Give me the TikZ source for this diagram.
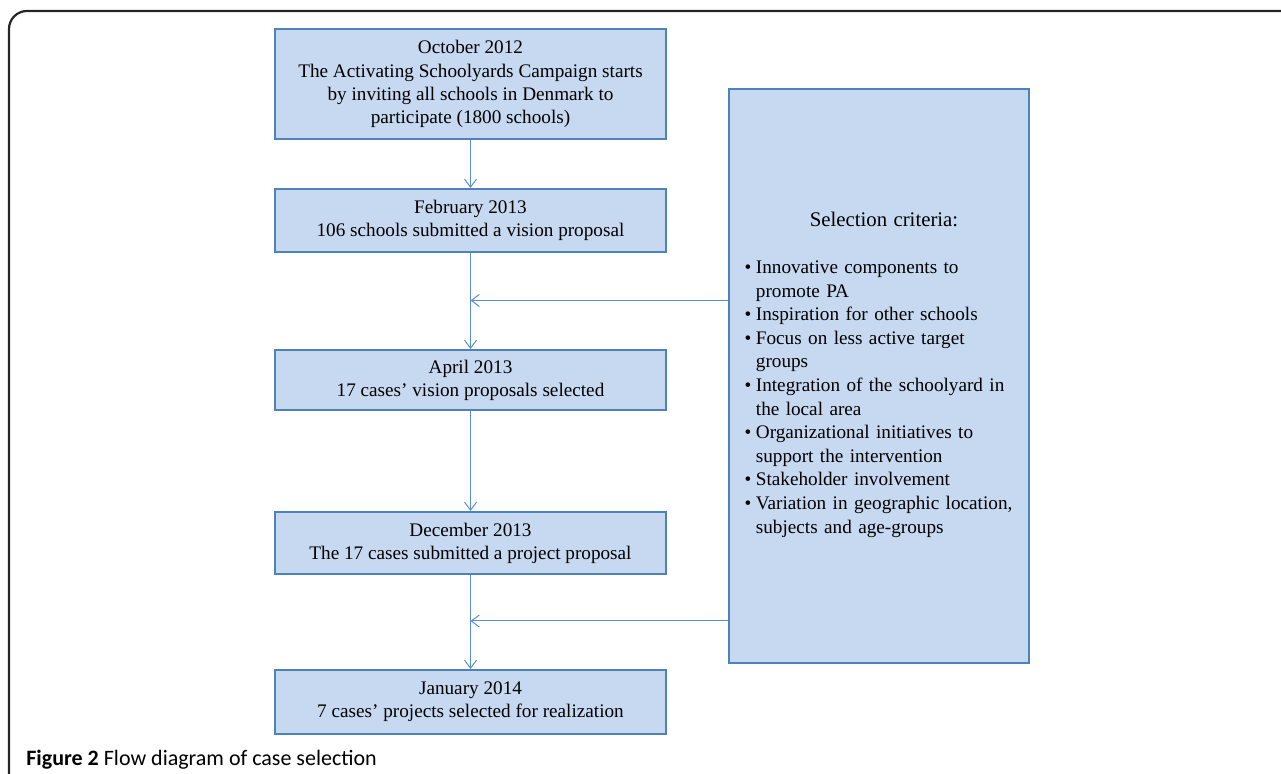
\documentclass[tikz,border=0pt]{standalone}
\usepackage{fontspec}
\setmainfont{Liberation Serif}
\newfontfamily\capfont{Carlito}
\usepackage{tikz}
\usetikzlibrary{arrows.meta}
\definecolor{boxfill}{HTML}{C6D9F1}
\definecolor{boxline}{HTML}{4F81BD}
\definecolor{arrline}{HTML}{5B8BD0}

\begin{document}
\begin{tikzpicture}[x=0.5pt,y=-0.5pt,
	stage/.style={draw=boxline, line width=1pt, fill=boxfill, minimum width=195.5pt, inner sep=0pt, align=center, font=\fontsize{9.6}{11.6}\selectfont},
	flow/.style={draw=arrline, line width=0.5pt, -{Straight Barb[length=4pt,width=6pt]}}]
\useasboundingbox (0,0) rectangle (1281,774);
\draw [line width=1.1pt, black!85, rounded corners=9pt] (9,790) -- (9,11) -- (1295,11);

\node [stage, minimum height=55pt] (oct) at (470.5,84) {October 2012\\The Activating Schoolyards Campaign starts\\by inviting all schools in Denmark to\\participate (1800 schools)};
\node [stage, minimum height=31.5pt] (feb) at (470.5,220.5) {February 2013\\106 schools submitted a vision proposal};
\node [stage, minimum height=30pt] (apr) at (470.5,380) {April 2013\\17 cases' vision proposals selected};
\node [stage, minimum height=31pt] (dec) at (470.5,543) {December 2013\\The 17 cases submitted a project proposal};
\node [stage, minimum height=32pt] (jan) at (470.5,702) {January 2014\\7 cases' projects selected for realization};

\node [draw=boxline, line width=1pt, fill=boxfill, minimum width=150pt, minimum height=287pt, text width=134.4pt, inner xsep=7.8pt, inner ysep=0pt, font=\fontsize{9.6}{11.8}\selectfont] (crit) at (879,376) {%
	{\fontsize{10.4}{11.8}\selectfont\centering\hspace*{5pt}Selection criteria:\par}
	\vspace{\baselineskip}
	\noindent\begin{tabular}[t]{@{}l@{\hspace{2.3pt}}l@{}}
	\textbullet & Innovative components to\\
	 & promote PA\\
	\textbullet & Inspiration for other schools\\
	\textbullet & Focus on less active target\\
	 & groups\\
	\textbullet & Integration of the schoolyard in\\
	 & the local area\\
	\textbullet & Organizational initiatives to\\
	 & support the intervention\\
	\textbullet & Stakeholder involvement\\
	\textbullet & Variation in geographic location,\\
	 & subjects and age-groups
	\end{tabular}};

\coordinate (j1) at (470.5,300.5);
\coordinate (j2) at (470.5,621);
\draw [flow] (oct) -- (feb);
\draw [flow] (feb) -- (apr);
\draw [flow] (crit.west |- j1) -- (j1);
\draw [flow] (apr) -- (dec);
\draw [flow] (dec) -- (jan);
\draw [flow] (crit.west |- j2) -- (j2);

\node [anchor=base west, inner sep=0pt, font=\capfont\fontsize{11}{13}\selectfont] (cap) at (26,766) {\textbf{Figure 2} Flow diagram of case selection};
\end{tikzpicture}
\end{document}
